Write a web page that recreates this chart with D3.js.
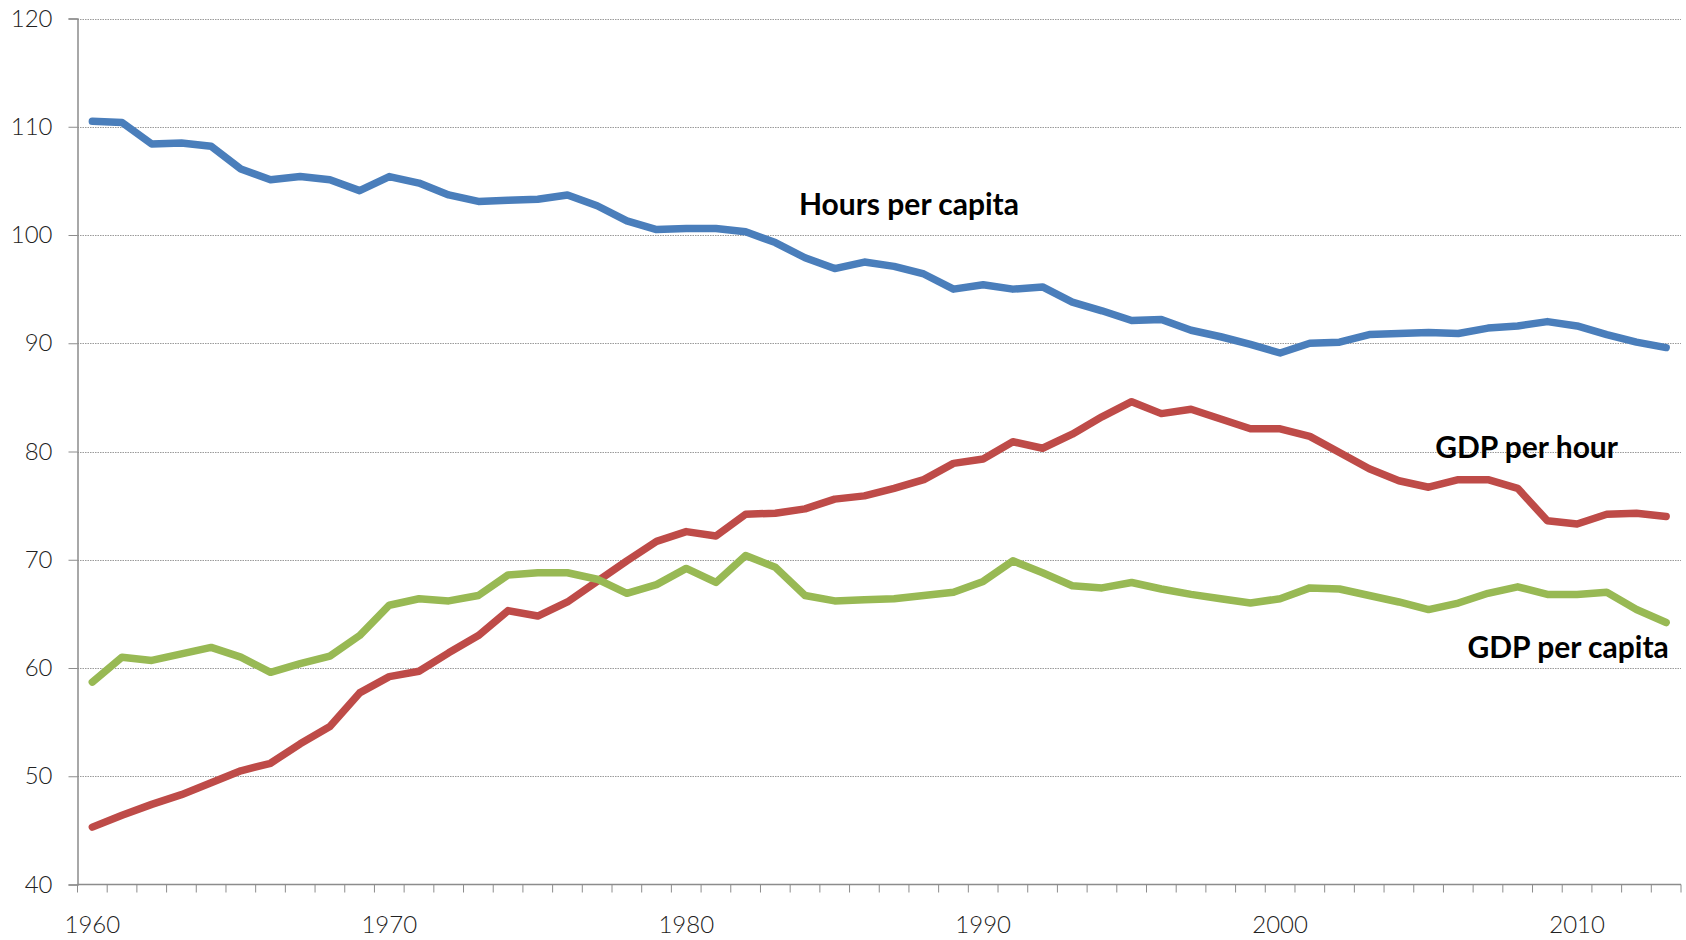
<!DOCTYPE html>
<html lang="en">
<head>
  <meta charset="UTF-8">
  <title>Hours, GDP per hour, GDP per capita</title>
  <style>
    body { margin: 0; background: #fff; }
    svg text { font-family: Lato, "DejaVu Sans", sans-serif; }
  </style>
</head>
<body>
  <svg id="chart" width="1686" height="940"></svg>

  <script src="https://d3js.org/d3.v7.min.js"></script>
  <script>
    // data
    const years = d3.range(1960, 2014);

    const hoursPerCapita = [
      110.5, 110.4, 108.4, 108.5, 108.2, 106.1, 105.1, 105.4, 105.1, 104.1,
      105.4, 104.8, 103.7, 103.1, 103.2, 103.3, 103.7, 102.7, 101.3, 100.5,
      100.6, 100.6, 100.3, 99.3, 97.9, 96.9, 97.5, 97.1, 96.4, 95.0,
      95.4, 95.0, 95.2, 93.8, 93.0, 92.1, 92.2, 91.2, 90.6, 89.9,
      89.1, 90.0, 90.1, 90.8, 90.9, 91.0, 90.9, 91.4, 91.6, 92.0,
      91.6, 90.8, 90.1, 89.6
    ];

    const gdpPerHour = [
      45.3, 46.4, 47.4, 48.3, 49.4, 50.5, 51.2, 53.0, 54.6, 57.7,
      59.2, 59.7, 61.4, 63.0, 65.3, 64.8, 66.1, 68.0, 69.9, 71.7,
      72.6, 72.2, 74.2, 74.3, 74.7, 75.6, 75.9, 76.6, 77.4, 78.9,
      79.3, 80.9, 80.3, 81.6, 83.2, 84.6, 83.5, 83.9, 83.0, 82.1,
      82.1, 81.4, 79.9, 78.4, 77.3, 76.7, 77.4, 77.4, 76.6, 73.6,
      73.3, 74.2, 74.3, 74.0
    ];

    const gdpPerCapita = [
      58.7, 61.0, 60.7, 61.3, 61.9, 61.0, 59.6, 60.4, 61.1, 63.0,
      65.8, 66.4, 66.2, 66.7, 68.6, 68.8, 68.8, 68.2, 66.9, 67.7,
      69.2, 67.9, 70.4, 69.3, 66.7, 66.2, 66.3, 66.4, 66.7, 67.0,
      68.0, 69.9, 68.8, 67.6, 67.4, 67.9, 67.3, 66.8, 66.4, 66.0,
      66.4, 67.4, 67.3, 66.7, 66.1, 65.4, 66.0, 66.9, 67.5, 66.8,
      66.8, 67.0, 65.4, 64.2
    ];

    const yTicks = [40, 50, 60, 70, 80, 90, 100, 110, 120];
    const xLabelYears = [1960, 1970, 1980, 1990, 2000, 2010];

    const seriesList = [
      { name: 'Hours per capita', values: hoursPerCapita, color: '#4a7ebb', labelYear: 1987.5, labelValue: 102.6 },
      { name: 'GDP per hour', values: gdpPerHour, color: '#be4b48', labelYear: 2008.3, labelValue: 80.1 },
      { name: 'GDP per capita', values: gdpPerCapita, color: '#98b954', labelYear: 2009.7, labelValue: 61.6 }
    ];

    const svg = d3.select('#chart');
    const m = { left: 77.5, right: 1681, top: 18.5, bottom: 884.5 };

    const x = d3.scaleBand().domain(years).range([m.left, m.right]).padding(0);
    const xc = yr => x(yr) + x.bandwidth() / 2;
    const y = d3.scaleLinear().domain([40, 120]).range([m.bottom, m.top]);

    // horizontal dotted gridlines
    svg.append('g')
      .selectAll('line')
      .data(yTicks.filter(v => v > 40))
      .join('line')
      .attr('x1', m.left).attr('x2', m.right)
      .attr('y1', d => Math.round(y(d)) + 0.5).attr('y2', d => Math.round(y(d)) + 0.5)
      .attr('stroke', '#9a9a9a')
      .attr('stroke-width', 1)
      .attr('stroke-dasharray', '1.5,1');

    // y axis
    const yAxis = svg.append('g')
      .attr('transform', `translate(${m.left},0)`)
      .call(d3.axisLeft(y).tickValues(yTicks).tickSize(9).tickPadding(16).tickFormat(d3.format('d')));
    yAxis.select('.domain').attr('stroke', '#8c8c8c').attr('stroke-width', 1.5);
    yAxis.selectAll('.tick line').attr('stroke', '#8c8c8c');
    yAxis.selectAll('text')
      .attr('font-size', 24).attr('font-weight', 300).attr('fill', '#222');

    // x axis: ticks at band edges, labels every 10 years
    const xAxis = svg.append('g').attr('transform', `translate(0,${m.bottom})`);
    xAxis.append('line')
      .attr('x1', m.left).attr('x2', m.right)
      .attr('stroke', '#8c8c8c').attr('stroke-width', 1.5);
    xAxis.selectAll('.xt')
      .data(years.concat([2014]))
      .join('line')
      .attr('class', 'xt')
      .attr('x1', d => d === 2014 ? m.right : x(d))
      .attr('x2', d => d === 2014 ? m.right : x(d))
      .attr('y1', 0).attr('y2', 8)
      .attr('stroke', '#8c8c8c');
    xAxis.selectAll('text')
      .data(xLabelYears)
      .join('text')
      .attr('x', d => xc(d))
      .attr('y', 48)
      .attr('text-anchor', 'middle')
      .attr('font-size', 24).attr('font-weight', 300).attr('fill', '#222')
      .text(d => d);

    // the lines
    const line = d3.line()
      .x((d, i) => xc(years[i]))
      .y(d => y(d));

    svg.append('g')
      .selectAll('path')
      .data(seriesList)
      .join('path')
      .attr('d', d => line(d.values))
      .attr('fill', 'none')
      .attr('stroke', d => d.color)
      .attr('stroke-width', 7.5)
      .attr('stroke-linejoin', 'round')
      .attr('stroke-linecap', 'round');

    // series labels
    const yrX = d3.scaleLinear().domain([1960, 2013]).range([xc(1960), xc(2013)]);
    svg.append('g')
      .selectAll('text')
      .data(seriesList)
      .join('text')
      .attr('x', d => yrX(d.labelYear))
      .attr('y', d => y(d.labelValue))
      .attr('text-anchor', 'middle')
      .attr('dominant-baseline', 'middle')
      .attr('font-size', 30)
      .attr('font-weight', 700)
      .attr('fill', '#000')
      .text(d => d.name);
  </script>
</body>
</html>
